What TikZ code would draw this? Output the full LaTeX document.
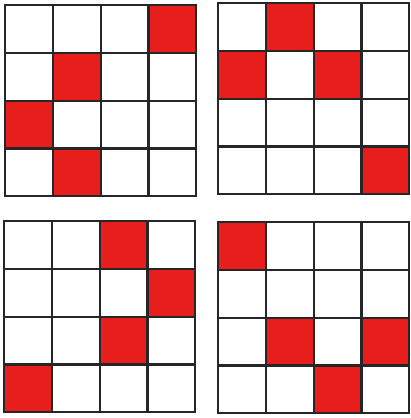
\documentclass[tikz,border=0pt]{standalone}
\definecolor{cellred}{RGB}{232,30,28}
\begin{document}
\begin{tikzpicture}[x=1pt,y=-1pt]
  \useasboundingbox (0,0) rectangle (410,418);
  \def\c{47.8}
  % griglie 4x4: angolo in alto a sinistra, poi celle rosse (colonna/riga)
  \foreach \ox/\oy/\cells in {5/5/{3/0,1/1,0/2,1/3}, 218/3/{1/0,0/1,2/1,3/3},
                              4/221/{2/0,3/1,2/2,0/3}, 218/222/{0/0,1/2,3/2,2/3}} {
    \foreach \i/\j in \cells
      \fill[cellred] (\ox+\i*\c,\oy+\j*\c) rectangle ++(\c,\c);
    \foreach \k in {0,...,4} {
      \draw[line width=2.2pt,line cap=rect,black!85] (\ox+\k*\c,\oy) -- ++(0,4*\c);
      \draw[line width=2.2pt,line cap=rect,black!85] (\ox,\oy+\k*\c) -- ++(4*\c,0);
    }
  }
\end{tikzpicture}
\end{document}
